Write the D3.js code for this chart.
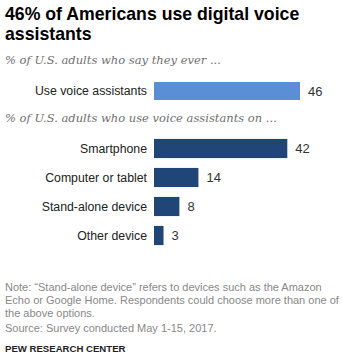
<!DOCTYPE html>
<html><head><meta charset="utf-8">
<script src="https://cdn.jsdelivr.net/npm/d3@7"></script>
<style>body{margin:0;background:#fff}svg{display:block}</style>
</head><body>
<script>
const topCategories = ["Use voice assistants"];
const topValues = [46];
const deviceCategories = ["Smartphone", "Computer or tablet", "Stand-alone device", "Other device"];
const deviceValues = [42, 14, 8, 3];
const titleLines = ["46% of Americans use digital voice", "assistants"];
const subtitle1 = "% of U.S. adults who say they ever ...";
const subtitle2 = "% of U.S. adults who use voice assistants on ...";
const noteLines = ["Note: \u201cStand-alone device\u201d refers to devices such as the Amazon",
  "Echo or Google Home. Respondents could choose more than one of",
  "the above options."];
const sourceLine = "Source: Survey conducted May 1-15, 2017.";
const sourceLabel = "PEW RESEARCH CENTER";

const W = 342, H = 363;
const svg = d3.select("body").append("svg").attr("width", W).attr("height", H);

const x = d3.scaleLinear().domain([0, 46]).range([154, 300]);

svg.selectAll("text.title").data(titleLines).join("text")
  .attr("x", 5).attr("y", (d, i) => 20 + i * 20)
  .style("font-family", "Liberation Sans, Arial, sans-serif").style("font-weight", "bold")
  .style("font-size", "17.7px").style("fill", "#000").text(d => d);

function sub(t, y) {
  svg.append("text").attr("x", 5).attr("y", y)
    .style("font-family", "DejaVu Serif, Georgia, serif").style("font-style", "italic")
    .style("font-size", "11.5px").style("fill", "#6f6f6f").text(t);
}
sub(subtitle1, 64);
sub(subtitle2, 122);

const yTop = d3.scaleBand().domain(topCategories).range([82, 100]).padding(0);
const yDev = d3.scaleBand().domain(deviceCategories).range([134, 250]).paddingInner(0.34).paddingOuter(0.17);

function drawBars(cats, vals, yScale, color) {
  const g = svg.append("g");
  const data = cats.map((c, i) => ({c, v: vals[i]}));
  g.selectAll("rect").data(data).join("rect")
    .attr("x", x(0)).attr("y", d => yScale(d.c))
    .attr("width", d => x(d.v) - x(0)).attr("height", yScale.bandwidth())
    .attr("fill", color);
  g.selectAll("text.cat").data(data).join("text")
    .attr("x", x(0) - 7).attr("y", d => yScale(d.c) + yScale.bandwidth() / 2)
    .attr("dy", "0.35em").attr("text-anchor", "end")
    .style("font-family", "Liberation Sans, Arial, sans-serif").style("font-size", "12.3px")
    .style("fill", "#222").text(d => d.c);
  g.selectAll("text.val").data(data).join("text")
    .attr("x", d => x(d.v) + 8).attr("y", d => yScale(d.c) + yScale.bandwidth() / 2)
    .attr("dy", "0.35em")
    .style("font-family", "Liberation Sans, Arial, sans-serif").style("font-size", "13px")
    .style("fill", "#333").text(d => d.v);
}
drawBars(topCategories, topValues, yTop, "#5B8FD5");
drawBars(deviceCategories, deviceValues, yDev, "#204577");

svg.selectAll("text.note").data(noteLines).join("text")
  .attr("x", 5).attr("y", (d, i) => 291 + i * 13)
  .style("font-family", "Liberation Sans, Arial, sans-serif")
  .style("font-size", "11px").style("fill", "#888").text(d => d);
svg.append("text").attr("x", 5).attr("y", 332)
  .style("font-family", "Liberation Sans, Arial, sans-serif")
  .style("font-size", "11px").style("fill", "#888").text(sourceLine);

svg.append("text").attr("x", 5).attr("y", 352)
  .style("font-family", "Liberation Sans, Arial, sans-serif").style("font-weight", "bold")
  .style("font-size", "9.6px").style("fill", "#222").text(sourceLabel);
</script>
</body></html>
